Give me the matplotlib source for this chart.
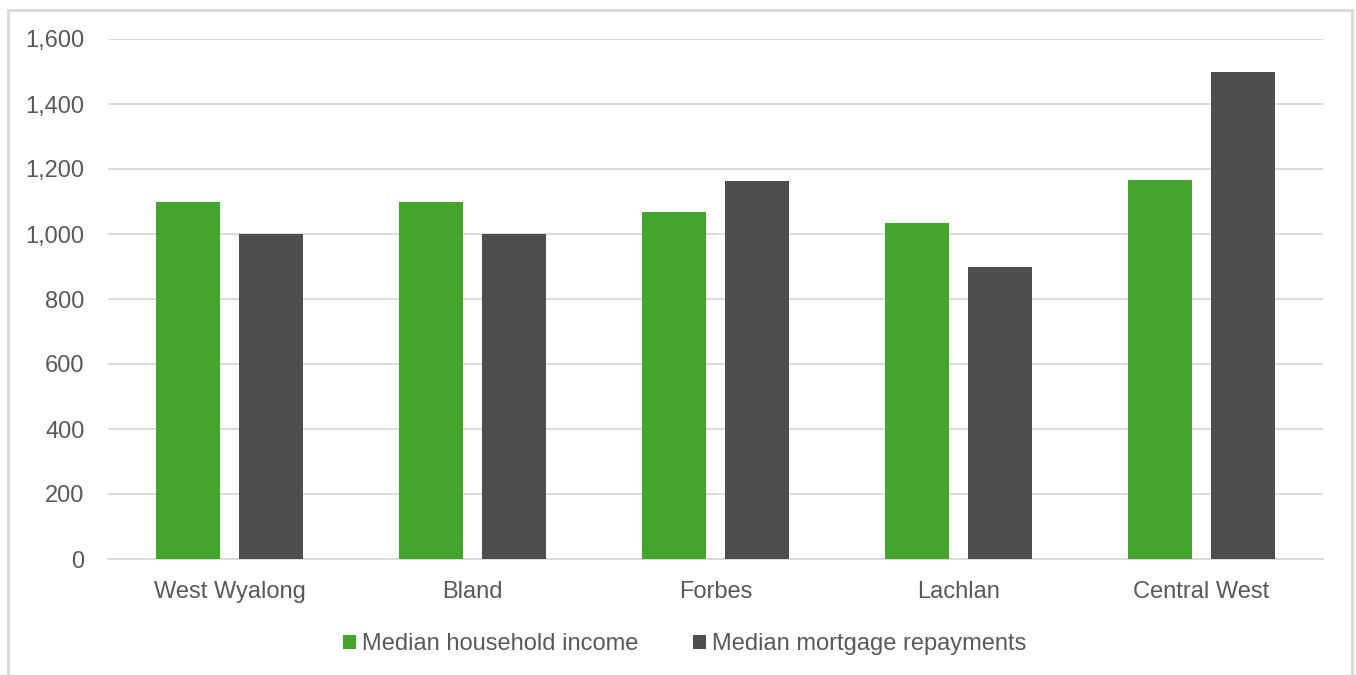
import numpy as np
import matplotlib
matplotlib.use("Agg")
import matplotlib.pyplot as plt
from matplotlib.patches import Rectangle

# dane
categories = ["West Wyalong", "Bland", "Forbes", "Lachlan", "Central West"]
household_income = [1098, 1098, 1067, 1033, 1165]
mortgage_repayments = [1000, 1000, 1162, 898, 1500]
series_names = ["Median household income", "Median mortgage repayments"]
y_ticks = [0, 200, 400, 600, 800, 1000, 1200, 1400, 1600]

green = "#43a52d"
dark = "#4e4e50"
grid_col = "#d9d9d9"
text_col = "#595959"

plt.rcParams['font.family'] = ['Liberation Sans', 'DejaVu Sans']

fig = plt.figure(figsize=(13.56, 6.75), dpi=100)
ax = fig.add_axes([108/1356, 1 - 559/675, (1323 - 108)/1356, (559 - 39)/675])

x = np.arange(len(categories))
w = 0.263
off = 0.171
ax.bar(x - off, household_income, width=w, color=green, label=series_names[0], zorder=3)
ax.bar(x + off, mortgage_repayments, width=w, color=dark, label=series_names[1], zorder=3)

ax.set_xlim(-0.5, len(categories) - 0.5)
ax.set_ylim(0, 1600)
ax.set_yticks(y_ticks)
ax.set_yticklabels([f"{v:,}" for v in y_ticks])
ax.set_xticks(x)
ax.set_xticklabels(categories)

ax.yaxis.grid(True, color=grid_col, linewidth=1.3, zorder=0)
ax.set_axisbelow(True)
for s in ["top", "right", "left"]:
    ax.spines[s].set_visible(False)
ax.spines["bottom"].set_color(grid_col)
ax.spines["bottom"].set_linewidth(1.3)

ax.tick_params(axis='both', length=0, labelsize=17, colors=text_col)
ax.tick_params(axis='y', pad=17)
ax.tick_params(axis='x', pad=16)

leg = fig.legend(loc='center', bbox_to_anchor=(0.505, 1 - 644/675), ncol=2, frameon=False,
                 fontsize=17, handlelength=0.55, handleheight=0.55, handletextpad=0.25,
                 columnspacing=2.3, labelcolor=text_col)

# ramka wokol wykresu
border = Rectangle((8/1356, -0.1), (1352 - 8)/1356, 1 - 10/675 + 0.1, transform=fig.transFigure,
                   fill=False, edgecolor=grid_col, linewidth=2, clip_on=False)
fig.patches.append(border)

fig.savefig("out.png", dpi=100)
